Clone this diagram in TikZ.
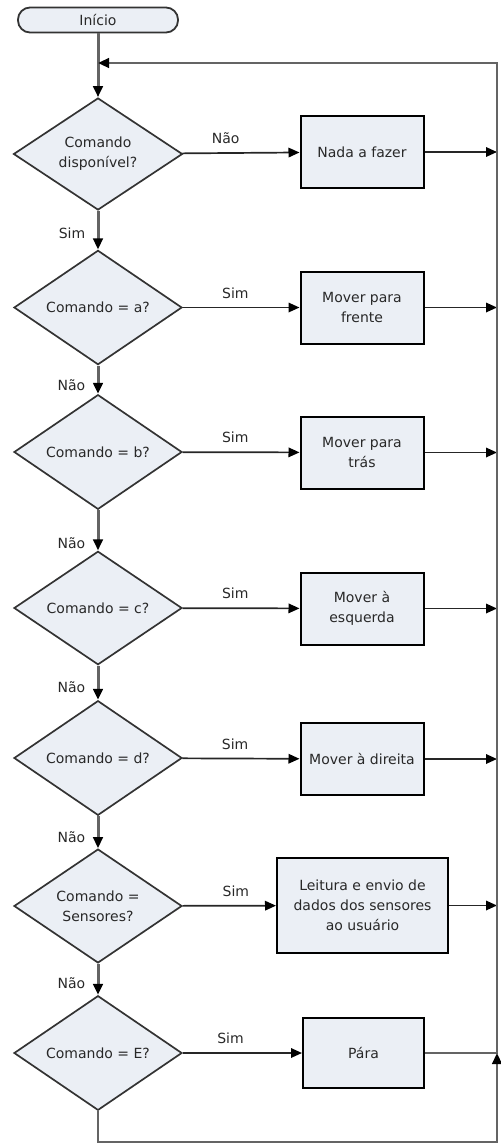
\documentclass[tikz,border=0pt]{standalone}
\usepackage{fontspec}
\setmainfont{DejaVu Sans}
\usetikzlibrary{arrows.meta,shapes.geometric}
\definecolor{flowFill}{RGB}{235,239,245}
\definecolor{flowGray}{RGB}{100,100,100}
\definecolor{flowText}{RGB}{40,40,40}

\begin{document}
\begin{tikzpicture}[x=1pt,y=-1pt,>={Triangle[length=11pt,width=9.5pt,color=black]},
  every node/.style={font=\fontsize{14}{20}\selectfont,text=flowText},
  terminal/.style={rectangle,rounded corners=12pt,draw=black!80,line width=1.8pt,fill=flowFill,minimum width=160pt,minimum height=25pt,inner sep=0pt},
  decision/.style={diamond,draw=black!80,line width=1.7pt,fill=flowFill,minimum width=168pt,minimum height=100pt,inner sep=0pt,align=center},
  action/.style={rectangle,draw=black,line width=2pt,fill=flowFill,minimum width=123pt,minimum height=72pt,align=center},
  down/.style={->,draw=flowGray,line width=3pt},
  side/.style={->,draw=black!85,line width=1.7pt},
  rail/.style={->,draw=flowGray,line width=2.6pt}]
\useasboundingbox (0,0) rectangle (501,1144);
\node[terminal] (inicio) at (98,20) {Início};
\node[decision,minimum width=169pt,minimum height=112pt] (d1) at (98,154) {Comando\\disponível?};
\node[action] (b1) at (362,152) {Nada a fazer};
\node[decision] (d2) at (98,307.5) {Comando = a?};
\node[action] (b2) at (362,307.5) {Mover para\\frente};
\node[decision] (d3) at (98,452) {Comando = b?};
\node[action] (b3) at (362,452.5) {Mover para\\trás};
\node[decision] (d4) at (98,608) {Comando = c?};
\node[action] (b4) at (362,608.5) {Mover à\\esquerda};
\node[decision] (d5) at (98,758) {Comando = d?};
\node[action] (b5) at (362,759) {Mover à direita};
\node[decision] (d6) at (98,906) {Comando =\\Sensores?};
\node[action,minimum width=171pt,minimum height=95pt] (b6) at (362.5,905.5) {Leitura e envio de\\dados dos sensores\\ao usuário};
\node[decision] (d7) at (98,1053) {Comando = E?};
\node[action,minimum width=121pt,minimum height=70pt] (b7) at (363.5,1053) {Pára};
\coordinate (railtop) at (497,63); \coordinate (railbot) at (497,1142); \coordinate (loopin) at (98,63);

\draw[down] (inicio) -- (d1);
\draw[down] (d1) -- (d2) node[pos=0.58,left=8pt]{Sim};
\draw[down] (d2) -- (d3) node[pos=0.71,left=8pt]{Não};
\draw[down] (d3) -- (d4) node[pos=0.81,left=8pt]{Não};
\draw[down] (d4) -- (d5) node[pos=0.63,left=8pt]{Não};
\draw[down] (d5) -- (d6) node[pos=0.65,left=8pt]{Não};
\draw[down] (d6) -- (d7) node[pos=0.63,left=8pt]{Não};

\draw[side] (d1) -- (b1) node[pos=0.37,above=5pt]{Não};
\draw[side] (d2) -- (b2) node[pos=0.45,above=5pt]{Sim};
\draw[side] (d3) -- (b3) node[pos=0.45,above=5pt]{Sim};
\draw[side] (d4) -- (b4) node[pos=0.45,above=5pt]{Sim};
\draw[side] (d5) -- (b5) node[pos=0.45,above=5pt]{Sim};
\draw[side] (d6) -- (b6) node[pos=0.57,above=5pt]{Sim};
\draw[side] (d7) -- (b7) node[pos=0.40,above=5pt]{Sim};

\foreach \b in {b1,b2,b3,b4,b5,b6} \draw[side] (\b) -- (\b -| railtop);
\draw[rail] (b7) -- (b7 -| railtop) -- (railtop) -- (loopin);
\draw[rail] (d7) -- (d7 |- railbot) -- (railbot) -- (b7 -| railbot);
\end{tikzpicture}
\end{document}
